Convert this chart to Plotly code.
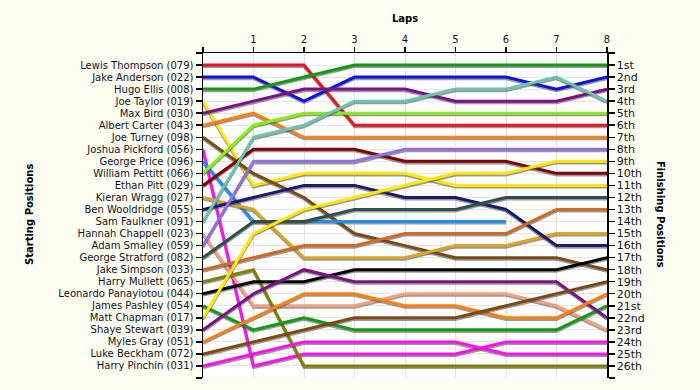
import plotly.graph_objects as go

laps = [0, 1, 2, 3, 4, 5, 6, 7, 8]
lap_tick_labels = ["", "1", "2", "3", "4", "5", "6", "7", "8"]

start_labels = [
    "Lewis Thompson (079)", "Jake Anderson (022)", "Hugo Ellis (008)", "Joe Taylor (019)",
    "Max Bird (030)", "Albert Carter (043)", "Joe Turney (098)", "Joshua Pickford (056)",
    "George Price (096)", "William Pettitt (066)", "Ethan Pitt (029)", "Kieran Wragg (027)",
    "Ben Wooldridge (055)", "Sam Faulkner (091)", "Hannah Chappell (023)", "Adam Smalley (059)",
    "George Stratford (082)", "Jake Simpson (033)", "Harry Mullett (065)",
    "Leonardo Panayiotou (044)", "James Pashley (054)", "Matt Chapman (017)",
    "Shaye Stewart (039)", "Myles Gray (051)", "Luke Beckham (072)", "Harry Pinchin (031)",
]
finish_labels = [
    "1st", "2nd", "3rd", "4th", "5th", "6th", "7th", "8th", "9th", "10th", "11th", "12th",
    "13th", "14th", "15th", "16th", "17th", "18th", "19th", "20th", "21st", "22nd", "23rd",
    "24th", "25th", "26th",
]

lewis_thompson = [1, 1, 1, 6, 6, 6, 6, 6, 6]
jake_anderson = [2, 2, 4, 2, 2, 2, 2, 3, 2]
hugo_ellis = [3, 3, 2, 1, 1, 1, 1, 1, 1]
joe_taylor = [4, 11, 10, 10, 10, 11, 11, 11, 11]
max_bird = [5, 4, 3, 3, 3, 4, 4, 4, 3]
albert_carter = [6, 5, 7, 7, 7, 7, 7, 7, 7]
joe_turney = [7, 10, 12, 15, 16, 17, 17, 17, 18]
joshua_pickford = [8, 26, 25, 25, 25, 25, 24, 24, 24]
george_price = [9, 14, 14, 14, 14, 14, 14, None, None]
william_pettitt = [10, 6, 5, 5, 5, 5, 5, 5, 5]
ethan_pitt = [11, 8, 8, 8, 9, 9, 9, 10, 10]
kieran_wragg = [12, 13, 17, 17, 17, 16, 16, 15, 15]
ben_wooldridge = [13, 12, 11, 11, 12, 12, 13, 16, 16]
sam_faulkner = [14, 7, 6, 4, 4, 3, 3, 2, 4]
hannah_chappell = [15, 21, 21, 21, 20, 20, 20, 21, 23]
adam_smalley = [16, 9, 9, 9, 8, 8, 8, 8, 8]
george_stratford = [17, 14, 14, 13, 13, 13, 12, 12, 12]
jake_simpson = [18, 17, 16, 16, 15, 15, 15, 13, 13]
harry_mullett = [19, 18, 26, 26, 26, 26, 26, 26, 26]
leonardo_panayiotou = [20, 19, 19, 18, 18, 18, 18, 18, 17]
james_pashley = [21, 23, 22, 23, 23, 23, 23, 23, 21]
matt_chapman = [22, 15, 13, 12, 11, 10, 10, 9, 9]
shaye_stewart = [23, 20, 18, 19, 19, 19, 19, 19, 22]
myles_gray = [24, 22, 20, 20, 21, 21, 22, 22, 20]
luke_beckham = [25, 24, 23, 22, 22, 22, 21, 20, 19]
harry_pinchin = [26, 25, 24, 24, 24, 24, 25, 25, 25]

series = [
    lewis_thompson, jake_anderson, hugo_ellis, joe_taylor, max_bird, albert_carter,
    joe_turney, joshua_pickford, george_price, william_pettitt, ethan_pitt, kieran_wragg,
    ben_wooldridge, sam_faulkner, hannah_chappell, adam_smalley, george_stratford,
    jake_simpson, harry_mullett, leonardo_panayiotou, james_pashley, matt_chapman,
    shaye_stewart, myles_gray, luke_beckham, harry_pinchin,
]

colors = [
    "#E8141C", "#1010E0", "#139A14", "#FFE800", "#7F0F86", "#FF8010", "#7B4A12", "#FF10F0",
    "#2090F0", "#88EE11", "#800000", "#DAA520", "#1A1A70", "#6CC4AA", "#F4A080", "#9370DB",
    "#2F4F4F", "#D2691E", "#808000", "#000000", "#139A14", "#FFE800", "#7F0F86", "#FF8010",
    "#7B4A12", "#FF10F0",
]

SHADOW_DY = 0.13

fig = go.Figure()
for name, vals, col in zip(start_labels, series, colors):
    shadow = [None if v is None else v + SHADOW_DY for v in vals]
    fig.add_trace(go.Scatter(
        x=laps, y=shadow, mode="lines", line=dict(color="rgba(70,70,70,0.55)", width=3),
        hoverinfo="skip", showlegend=False, connectgaps=False,
    ))
    fig.add_trace(go.Scatter(
        x=laps, y=vals, mode="lines", name=name, line=dict(color=col, width=3),
        showlegend=False, connectgaps=False,
    ))

# anchor trace for the right-hand axis
fig.add_trace(go.Scatter(x=[0], y=[1], yaxis="y2", mode="markers",
                         marker=dict(opacity=0), hoverinfo="skip", showlegend=False))

tick_font = dict(family="DejaVu Sans", size=10, color="#111122")
left_vals = list(range(0, 28))
left_text = [""] + start_labels + [""]
right_text = [""] + finish_labels + [""]

fig.update_layout(
    width=700, height=390,
    margin=dict(l=203, r=93, t=53, b=12),
    paper_bgcolor="#FFFEF3",
    plot_bgcolor="#FFFFFF",
    font=dict(family="DejaVu Sans", size=10, color="#111122"),
    xaxis=dict(
        side="top", range=[0, 8], tickvals=laps, ticktext=lap_tick_labels,
        showgrid=True, gridcolor="#E4E4E4", gridwidth=1, zeroline=False,
        showline=True, linecolor="black", linewidth=1.5,
        ticks="outside", ticklen=5, tickwidth=1.5, tickcolor="black",
        tickfont=tick_font, fixedrange=True,
    ),
    yaxis=dict(
        range=[27, 0], tickvals=left_vals, ticktext=left_text,
        showgrid=True, gridcolor="#E4E4E4", gridwidth=1, zeroline=False,
        showline=True, linecolor="black", linewidth=1.5,
        ticks="outside", ticklen=6, tickwidth=1.5, tickcolor="black",
        tickfont=tick_font, fixedrange=True,
    ),
    yaxis2=dict(
        overlaying="y", side="right", range=[27, 0], tickvals=left_vals, ticktext=right_text,
        showgrid=False, zeroline=False,
        showline=True, linecolor="black", linewidth=1.5,
        ticks="outside", ticklen=6, tickwidth=1.5, tickcolor="black",
        tickfont=dict(family="DejaVu Sans", size=11, color="#111122"), fixedrange=True,
    ),
    annotations=[
        dict(text="<b>Laps</b>", x=0.5, y=1.105, xref="paper", yref="paper",
             showarrow=False, font=dict(family="DejaVu Sans", size=10, color="black"),
             xanchor="center", yanchor="middle"),
        dict(text="<b>Starting Positions</b>", x=(29 - 203) / 404, y=(378 - 215) / 325,
             xref="paper", yref="paper", textangle=-90, showarrow=False,
             font=dict(family="DejaVu Sans", size=10, color="black"),
             xanchor="center", yanchor="middle"),
        dict(text="<b>Finishing Positions</b>", x=(661 - 203) / 404, y=(378 - 214) / 325,
             xref="paper", yref="paper", textangle=90, showarrow=False,
             font=dict(family="DejaVu Sans", size=10, color="black"),
             xanchor="center", yanchor="middle"),
    ],
)

fig.write_html(
    "out.html",
    config={"displayModeBar": False, "staticPlot": True},
    post_script="document.body.style.margin='0';document.body.style.padding='0';"
                "document.body.style.overflow='hidden';",
)
